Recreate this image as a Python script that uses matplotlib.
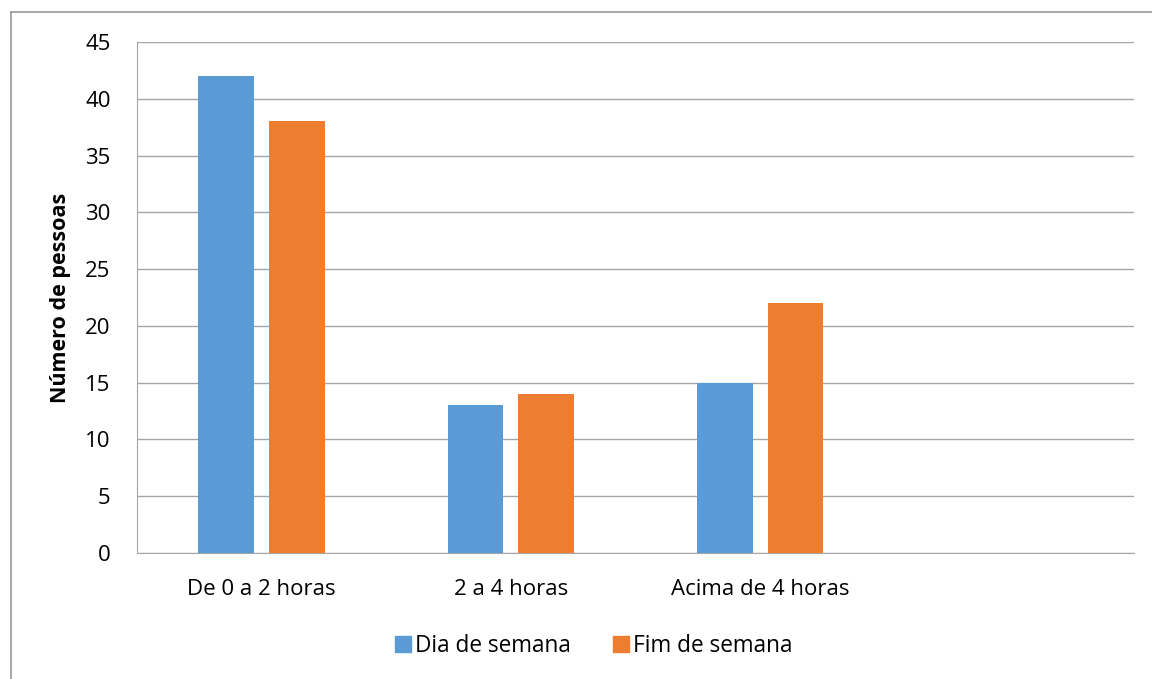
import numpy as np
import matplotlib.pyplot as plt
from matplotlib.lines import Line2D

categories = ['De 0 a 2 horas', '2 a 4 horas', 'Acima de 4 horas']
dia_semana = [42, 13, 15]
fim_semana = [38, 14, 22]
yticks = [0, 5, 10, 15, 20, 25, 30, 35, 40, 45]

blue = '#5B9BD5'
orange = '#ED7D31'
grid_col = '#A6A6A6'

plt.rcParams['font.family'] = ['Open Sans', 'DejaVu Sans']

fig = plt.figure(figsize=(11.52, 6.79), dpi=100)
ax = fig.add_axes([137 / 1152, 1 - 553 / 679, (1134 - 137) / 1152, (553 - 42) / 679])

x = np.arange(len(categories))
w = 0.224
ax.bar(x - 0.142, dia_semana, w, color=blue, label='Dia de semana', zorder=3)
ax.bar(x + 0.142, fim_semana, w, color=orange, label='Fim de semana', zorder=3)

ax.set_xlim(-0.5, 3.5)
ax.set_ylim(0, 45)
ax.set_yticks(yticks)
ax.set_xticks(x)
ax.set_xticklabels(categories)
ax.tick_params(axis='both', length=0, labelsize=16, colors='#404040', labelcolor='black')
ax.tick_params(axis='x', pad=19)
ax.tick_params(axis='y', pad=19)
ax.yaxis.grid(True, color=grid_col, linewidth=1, zorder=0)
for s in ['top', 'right']:
    ax.spines[s].set_visible(False)
ax.spines['left'].set_color(grid_col)
ax.spines['bottom'].set_color(grid_col)

ax.set_ylabel('Número de pessoas', fontsize=15.5, fontweight='bold', labelpad=10)

handles = [Line2D([], [], marker='s', linestyle='', markersize=12, color=blue),
           Line2D([], [], marker='s', linestyle='', markersize=12, color=orange)]
fig.legend(handles, ['Dia de semana', 'Fim de semana'], loc='center',
           bbox_to_anchor=(592 / 1152, 1 - 646 / 679), ncol=2, frameon=False,
           fontsize=16.3, handletextpad=0.05, columnspacing=1.7, handlelength=1.0)

# outer chart border (left and top visible)
fig.add_artist(Line2D([11 / 1152, 11 / 1152], [0, 1 - 12 / 679], color='#9A9A9A', linewidth=1.2, transform=fig.transFigure))
fig.add_artist(Line2D([11 / 1152, 1], [1 - 12 / 679, 1 - 12 / 679], color='#9A9A9A', linewidth=1.2, transform=fig.transFigure))

fig.savefig('out.png', dpi=100)
